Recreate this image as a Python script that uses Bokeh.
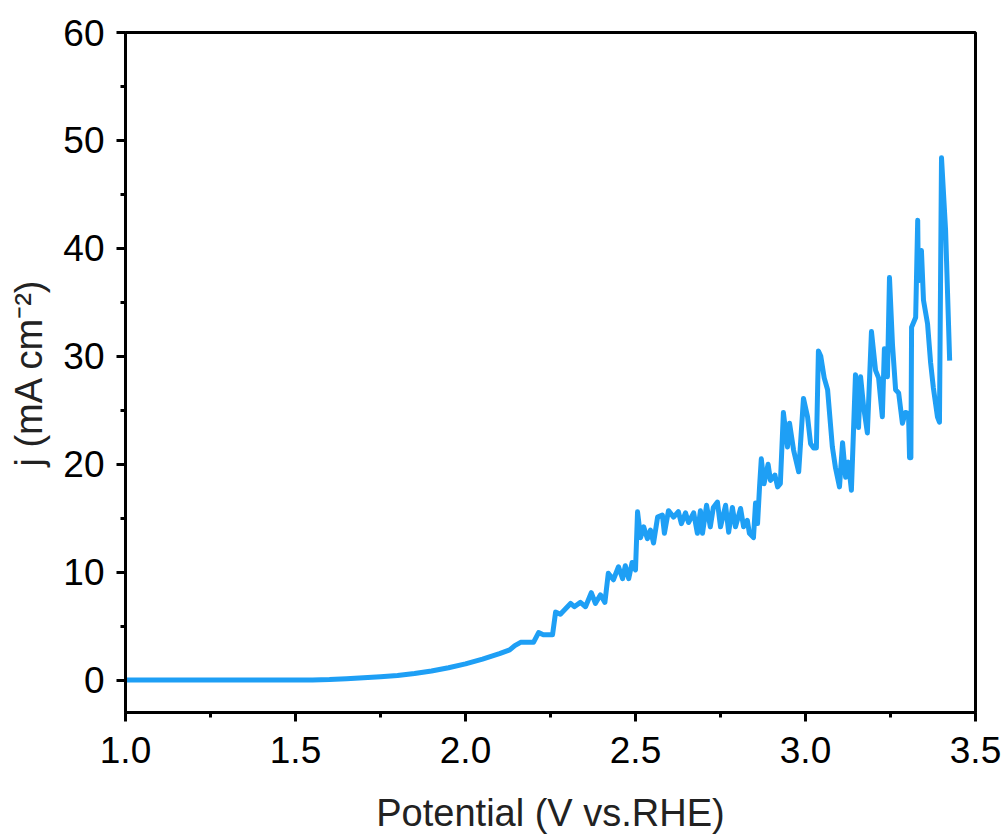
from bokeh.plotting import figure
from bokeh.embed import file_html
from bokeh.resources import INLINE
from bokeh.models import Range1d, FixedTicker, NumeralTickFormatter

potential = [1.00, 1.20, 1.40, 1.55, 1.60, 1.65, 1.70, 1.75, 1.80, 1.85, 1.90, 1.95, 2.00, 2.05, 2.10, 2.13,
             2.145, 2.162, 2.20, 2.215, 2.229, 2.256, 2.265, 2.279, 2.288, 2.309, 2.32, 2.338, 2.353, 2.37,
             2.382, 2.397, 2.41, 2.42, 2.435, 2.45, 2.462, 2.47, 2.48, 2.49, 2.50, 2.506, 2.515, 2.524,
             2.535, 2.544, 2.553, 2.565, 2.579, 2.585, 2.597, 2.612, 2.626, 2.635, 2.647, 2.656, 2.671,
             2.682, 2.691, 2.697, 2.709, 2.72, 2.729, 2.741, 2.75, 2.765, 2.774, 2.785, 2.794, 2.809,
             2.818, 2.829, 2.835, 2.847, 2.853, 2.859, 2.865, 2.87, 2.878, 2.89, 2.897, 2.91, 2.918,
             2.926, 2.935, 2.947, 2.953, 2.965, 2.98, 2.994, 3.006, 3.015, 3.024, 3.032, 3.038, 3.045,
             3.055, 3.065, 3.079, 3.088, 3.10, 3.109, 3.118, 3.126, 3.135, 3.147, 3.156, 3.162, 3.171,
             3.182, 3.194, 3.206, 3.215, 3.226, 3.232, 3.241, 3.247, 3.256, 3.265, 3.274, 3.285, 3.294,
             3.303, 3.306, 3.31, 3.312, 3.324, 3.330, 3.332, 3.341, 3.347, 3.359, 3.368, 3.376, 3.388,
             3.394, 3.40, 3.412, 3.424]
current = [0, 0, 0, 0.02, 0.05, 0.12, 0.22, 0.32, 0.43, 0.62, 0.85, 1.15, 1.5, 1.95, 2.45, 2.8,
           3.2, 3.5, 3.5, 4.4, 4.2, 4.2, 6.3, 6.1, 6.4, 7.1, 6.8, 7.2, 6.8, 8.1,
           7.1, 7.9, 7.2, 9.9, 9.3, 10.5, 9.4, 10.6, 9.4, 10.9, 10.2, 15.6, 13.2, 14.2,
           13.1, 13.9, 12.7, 15.1, 15.3, 13.6, 15.7, 15.1, 15.6, 14.5, 15.5, 14.6, 15.5,
           13.6, 15.7, 13.6, 16.2, 14.2, 16.0, 16.5, 14.2, 16.2, 13.7, 16.0, 14.2, 15.9,
           14.2, 14.8, 13.6, 13.2, 16.4, 14.5, 18.0, 20.5, 18.2, 20.0, 18.5, 19.0, 17.9,
           18.2, 24.8, 21.6, 23.8, 21.3, 19.3, 26.1, 24.4, 21.9, 21.5, 21.5, 30.5, 30.0,
           28.0, 26.9, 21.6, 19.7, 17.9, 22.0, 18.8, 20.2, 17.6, 28.3, 23.4, 28.1, 25.3,
           22.9, 32.3, 28.7, 28.0, 24.4, 30.7, 28.1, 37.3, 31.0, 26.9, 26.6, 23.8, 24.8,
           24.7, 20.6, 20.6, 32.7, 33.6, 42.6, 37.0, 39.8, 35.2, 33.0, 29.4, 27.1, 24.4,
           23.9, 48.4, 41.7, 29.6]

x_ticks = [1.0, 1.5, 2.0, 2.5, 3.0, 3.5]
y_ticks = [0, 10, 20, 30, 40, 50, 60]

FONT = "Liberation Sans"

p = figure(width=1008, height=839, output_backend="svg", toolbar_location=None,
           x_range=Range1d(1.0, 3.5), y_range=Range1d(-3, 60),
           min_border_left=125, min_border_right=33, min_border_top=32, min_border_bottom=127)
p.line(potential, current, line_color="#1E9FF5", line_width=5, line_join="round")

p.xgrid.visible = False
p.ygrid.visible = False
p.outline_line_color = "black"
p.outline_line_width = 3
p.background_fill_color = "white"
p.border_fill_color = "white"

for ax in (p.xaxis[0], p.yaxis[0]):
    ax.axis_line_width = 3
    ax.axis_line_color = "black"
    ax.major_tick_line_width = 3
    ax.minor_tick_line_width = 3
    ax.major_tick_out = 9
    ax.major_tick_in = 0
    ax.minor_tick_out = 5
    ax.minor_tick_in = 0
    ax.major_label_text_font = FONT
    ax.major_label_text_font_size = "37px"
    ax.major_label_text_color = "black"
    ax.axis_label_text_font = FONT
    ax.axis_label_text_font_size = "38px"
    ax.axis_label_text_font_style = "normal"
    ax.axis_label_text_color = "#222222"

p.xaxis.ticker = FixedTicker(ticks=x_ticks, minor_ticks=[1.25, 1.75, 2.25, 2.75, 3.25])
p.yaxis.ticker = FixedTicker(ticks=y_ticks, minor_ticks=[-5, 5, 15, 25, 35, 45, 55])
p.xaxis.formatter = NumeralTickFormatter(format="0.0")
p.xaxis.axis_label = "Potential (V vs.RHE)"
p.yaxis.axis_label = "j (mA cm\u207b\u00b2)"
p.xaxis.major_label_standoff = 15
p.yaxis.major_label_standoff = 12
p.xaxis.axis_label_standoff = 26
p.yaxis.axis_label_standoff = 10

open("out.html", "w").write(file_html(p, INLINE))
